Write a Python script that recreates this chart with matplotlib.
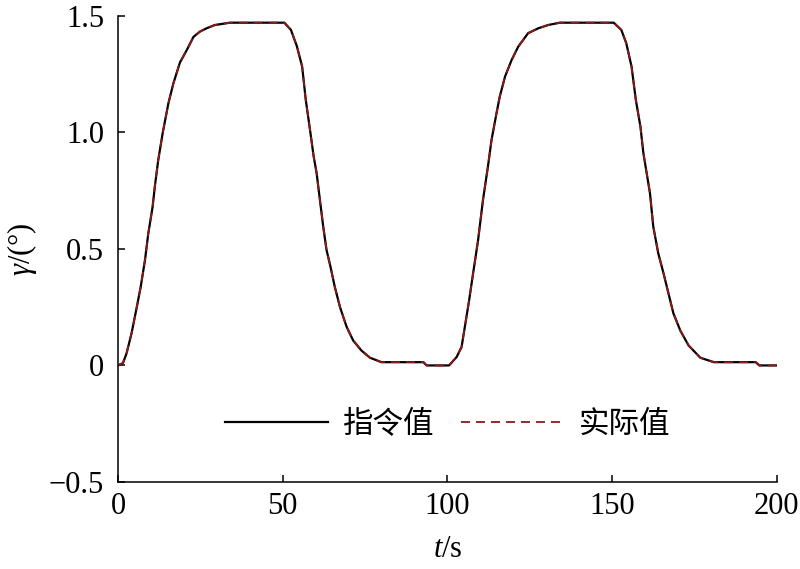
import matplotlib
matplotlib.use('Agg')
import matplotlib.pyplot as plt

plt.rcParams['font.family'] = ['Liberation Serif', 'Noto Sans CJK SC', 'DejaVu Sans']
plt.rcParams['mathtext.fontset'] = 'custom'
plt.rcParams['mathtext.rm'] = 'Liberation Serif'
plt.rcParams['mathtext.it'] = 'Liberation Serif:italic'

# 指令值
cmd_t = [0, 1.5, 2.6, 4.1, 5.7, 6.9, 8.2, 9.2, 10.5, 11.2, 12.2, 13.6, 15.3, 16.8,
         18.8, 20.9, 22.9, 24.9, 26.9, 29.4, 34, 50.5, 52.5, 54.3, 55.9, 57, 58.4,
         59.4, 60.3, 61.3, 62.3, 63.3, 64.5, 65.8, 67.4, 69.4, 71.4, 73.9, 76.5, 80,
         92.7, 93.7, 100.5, 102.8, 104.3, 105.3, 106.6, 107.8, 109.3, 110.8, 112.3, 113.4,
         114.9, 115.9, 117.5, 119.5, 121.5, 124.5, 127.6, 130.6, 134.1, 150.5, 152.8,
         154.3, 155.9, 157.2, 158.6, 159.5, 160.5, 161.5, 162.5, 164, 165.6, 167.1,
         168.6, 170.7, 173.2, 176.8, 180.9, 193.6, 194.7, 200]
cmd_gamma = [0.0, 0.01, 0.052, 0.137, 0.25, 0.338, 0.453, 0.567, 0.68, 0.77, 0.88, 1.0,
             1.125, 1.21, 1.30, 1.354, 1.41, 1.433, 1.447, 1.461, 1.471, 1.471, 1.44,
             1.37, 1.283, 1.14, 1.0, 0.897, 0.825, 0.71, 0.596, 0.496, 0.424, 0.338,
             0.25, 0.166, 0.107, 0.064, 0.033, 0.014, 0.014, 0.0, 0.0, 0.036, 0.079, 0.166,
             0.28, 0.395, 0.536, 0.71, 0.853, 0.968, 1.082, 1.154, 1.24, 1.311, 1.368,
             1.426, 1.447, 1.461, 1.471, 1.471, 1.44, 1.383, 1.283, 1.14, 1.025, 0.911,
             0.825, 0.739, 0.596, 0.482, 0.396, 0.31, 0.224, 0.15, 0.086, 0.033, 0.014,
             0.014, 0.0, 0.0]

# 实际值 (tracks the command almost exactly)
act_t = cmd_t
act_gamma = cmd_gamma

x_ticks = [0, 50, 100, 150, 200]
y_ticks = [-0.5, 0, 0.5, 1.0, 1.5]
y_tick_labels = ['\u22120.5', '0', '0.5', '1.0', '1.5']

fig = plt.figure(figsize=(8, 5.69), dpi=100)
ax = fig.add_axes([0.1475, 0.153, 0.8235, 0.819])

ax.plot(cmd_t, cmd_gamma, color='black', lw=1.6, label='指令值')
ax.plot(act_t, act_gamma, color='#8b1a1a', lw=1.3,
        linestyle=(0, (5, 3.3)), label='实际值')

ax.set_xlim(0, 200)
ax.set_ylim(-0.5, 1.5)
ax.set_xticks(x_ticks)
ax.set_yticks(y_ticks)
ax.set_yticklabels(y_tick_labels)
ax.tick_params(direction='in', length=5, width=1.1, labelsize=22)
ax.tick_params(axis='y', pad=10)
ax.tick_params(axis='x', pad=7)
for s in ['top', 'right']:
    ax.spines[s].set_visible(False)
for s in ['left', 'bottom']:
    ax.spines[s].set_linewidth(1.1)

ax.set_xlabel('$t$/s', fontsize=22, labelpad=10)
ax.set_ylabel('$\\gamma$/(°)', fontsize=22, labelpad=7)

ax.legend(loc='center', bbox_to_anchor=(0.5, 0.122), ncol=2, frameon=False,
          fontsize=22, handlelength=3.4, columnspacing=0.9, handletextpad=0.45)

fig.savefig('out.png', dpi=100)
